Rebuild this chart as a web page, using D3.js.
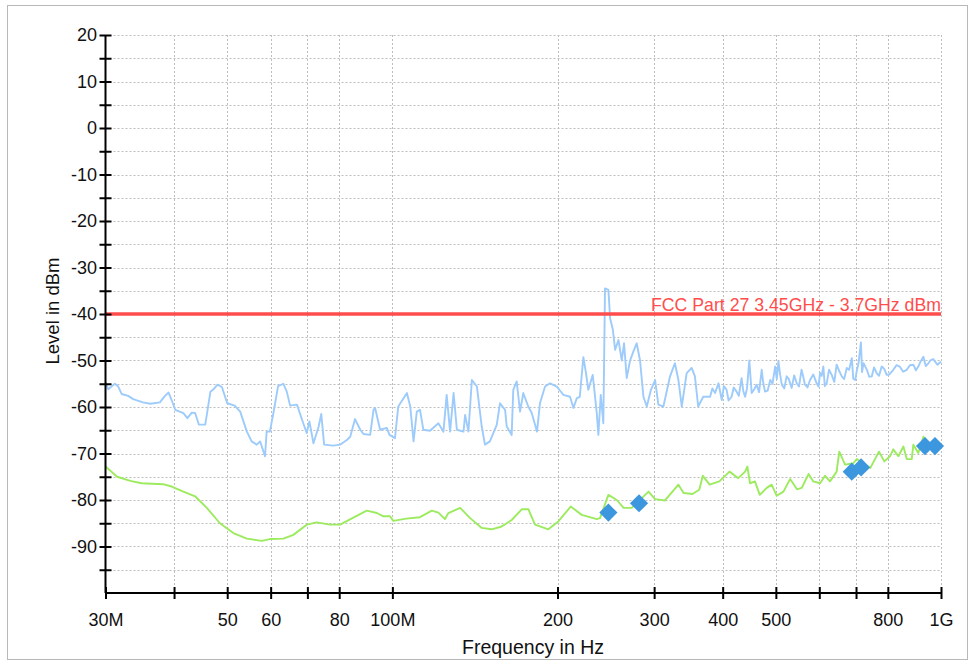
<!DOCTYPE html>
<html>
<head>
<meta charset="utf-8">
<script src="https://cdn.jsdelivr.net/npm/d3@7"></script>
<style>
  html, body { margin: 0; padding: 0; background: #ffffff; }
  svg { display: block; font-family: "Liberation Sans", Arial, Helvetica, sans-serif; }
</style>
</head>
<body>
<svg id="chart" width="968" height="662"></svg>
<script>
// Peak detector sweep: [frequency in MHz, level in dBm]
const peakTrace = [
  [30,-54.7],[30.35,-56.2],[31.2,-55.0],[31.65,-55.6],[32.1,-57.2],[33,-57.6],[33.7,-58.3],
  [35.1,-59.0],[36.2,-59.3],[37.7,-59.0],[38.5,-57.6],[39.1,-56.9],[39.6,-58.5],[40.2,-60.6],
  [41.6,-61.3],[42.3,-62.4],[43.1,-61.2],[43.7,-61.3],[44.4,-63.8],[45.6,-63.8],[46.6,-56.7],
  [47.2,-56.2],[48,-55.2],[48.9,-55.7],[50,-59.2],[51.6,-59.7],[52.8,-61.0],[54.3,-65.3],
  [55.4,-67.4],[56.6,-68.1],[57.4,-67.4],[58.6,-70.6],[59,-65.3],[59.8,-65.3],[60.7,-61.3],
  [61.9,-55.5],[63.3,-55.0],[64.2,-56.7],[65.1,-59.7],[67,-59.5],[68.8,-63.5],[69.8,-65.6],
  [70.6,-63.1],[71.8,-67.8],[73.4,-64.2],[74.2,-61.5],[75.1,-68.1],[78,-68.3],[80.3,-68.1],
  [82.6,-67.1],[83.8,-66.4],[85.5,-62.6],[87.4,-64.9],[88.6,-65.8],[91.1,-66.0],[92.4,-60.6],
  [93,-60.2],[95,-64.9],[97.7,-64.5],[98.8,-66.0],[101.1,-66.7],[102.5,-59.9],[106.3,-57.0],
  [107.8,-59.9],[109.3,-67.4],[110.8,-61.0],[112.3,-60.6],[113.9,-64.9],[117.1,-65.1],
  [121.3,-63.5],[123.9,-65.3],[125.6,-57.4],[127.4,-65.3],[129.3,-57.0],[131.1,-64.9],
  [134.8,-65.3],[135.7,-61.7],[137.6,-65.3],[139.6,-54.2],[142.6,-55.6],[145.5,-64.2],
  [147.5,-68.1],[150.6,-67.4],[155,-63.8],[157.1,-59.2],[160.5,-60.6],[161.6,-64.2],
  [165,-66.0],[166.1,-56.3],[168.5,-54.5],[170.9,-61.0],[173.2,-57.0],[176.9,-59.9],
  [179.5,-61.3],[183.5,-65.3],[185.8,-59.2],[189.8,-55.6],[193.8,-54.9],[199.4,-55.6],
  [202.2,-56.5],[205,-57.4],[210.8,-57.8],[213.8,-60.2],[216.9,-58.1],[219.6,-57.8],
  [222.9,-49.3],[225.4,-52.7],[227.6,-56.3],[231.8,-53.1],[233.1,-55.6],[235.8,-61.3],
  [237.4,-66.0],[239.8,-57.4],[242.4,-63.5],[244.1,-34.5],[247.6,-34.8],[249.4,-40.9],
  [252.3,-43.4],[254.7,-47.7],[258.3,-45.6],[261.9,-50.0],[264.4,-46.3],[267.4,-53.8],
  [271.2,-50.0],[274.9,-48.1],[278.8,-46.3],[282.8,-50.0],[286.8,-57.8],[290.9,-59.9],
  [296,-56.3],[301.2,-54.2],[305.4,-59.5],[311.9,-59.9],[320.7,-53.4],[327.3,-50.6],
  [332.2,-54.2],[336.9,-59.9],[343.9,-52.7],[351.2,-51.6],[356,-53.4],[361,-59.9],
  [368.6,-57.8],[379.4,-57.8],[383,-56.0],[387.5,-57.0],[393,-54.9],[398.5,-58.5],
  [402,-55.5],[406.6,-56.3],[410,-58.6],[415.3,-57.8],[419,-55.8],[424,-56.7],[428,-57.6],
  [433,-53.8],[436,-56.5],[439.5,-57.8],[443,-56.0],[447.3,-50.0],[451.8,-57.0],[456,-56.3],
  [461.3,-55.2],[466,-56.8],[471.2,-52.0],[474,-54.6],[477.7,-56.7],[483,-56.5],[488.4,-54.2],
  [493,-55.0],[498.6,-51.3],[502,-54.0],[505.5,-50.2],[509,-53.0],[512.8,-55.2],[518,-56.0],
  [523.3,-53.4],[528,-54.0],[534.4,-55.9],[540,-53.2],[545.8,-54.9],[551,-55.6],[556.9,-52.0],
  [561,-53.5],[565,-55.2],[571,-55.8],[577.1,-54.2],[585,-53.0],[593.4,-54.9],[598,-55.6],
  [602,-52.7],[606,-53.3],[610.3,-51.3],[614,-55.5],[619,-54.9],[625,-52.0],[632.1,-53.1],
  [639,-54.6],[645.3,-50.9],[652,-52.2],[659.5,-53.4],[666,-54.0],[673.4,-51.6],[680,-52.0],
  [687.8,-49.5],[692,-53.9],[697.8,-54.2],[702,-52.3],[707.4,-50.6],[714.5,-46.1],
  [718,-52.5],[722.3,-50.6],[727,-51.2],[732.6,-52.0],[740,-53.5],[748,-53.4],[755,-51.5],
  [763.5,-52.7],[771,-53.3],[779.7,-51.3],[788,-51.8],[796.3,-53.1],[805,-53.0],[818.5,-52.0],
  [830,-51.0],[841,-51.3],[853,-52.4],[866.2,-52.0],[878,-51.0],[890.4,-50.9],[900,-52.1],
  [909.1,-51.3],[918,-50.2],[928.8,-49.2],[938,-51.2],[948.2,-50.6],[958,-49.9],[968,-49.7],
  [985,-50.9],[1000,-50.2]
];

// Average detector sweep: [frequency in MHz, level in dBm]
const averageTrace = [
  [30,-72.8],[31.5,-75.0],[33.3,-75.9],[34.9,-76.4],[38.2,-76.6],[39.6,-77.1],[41.6,-78.2],
  [43.7,-79.2],[45.9,-81.7],[48.5,-85.0],[51.3,-87.1],[54.3,-88.3],[57.8,-88.8],[59.8,-88.4],
  [63.3,-88.3],[66,-87.5],[69.8,-85.3],[72.8,-84.8],[77,-85.3],[80.3,-85.3],[84.9,-83.8],
  [89.8,-82.3],[93.7,-82.8],[96.3,-83.5],[99,-83.5],[100.4,-84.5],[106,-84.0],[112.3,-83.7],
  [118,-82.3],[121.3,-82.7],[124.7,-84.1],[126.5,-82.8],[132.9,-81.7],[138.6,-83.9],
  [145.5,-86.0],[151.7,-86.3],[158.2,-85.7],[165,-84.3],[172.1,-82.0],[177,-82.0],
  [182,-85.3],[192.4,-86.3],[200.7,-84.6],[211.4,-81.4],[221.4,-83.2],[235.8,-84.1],
  [239,-83.9],[247.6,-78.9],[256.5,-80.0],[263.9,-81.7],[273.1,-81.7],[293,-78.2],
  [301.2,-79.8],[314,-80.1],[332.2,-76.7],[339.5,-78.5],[352.4,-78.7],[362.6,-77.8],
  [368,-74.8],[378.7,-76.7],[394.4,-76.0],[411.7,-73.9],[427,-75.3],[439.5,-73.9],
  [443.6,-72.8],[448.7,-76.4],[458,-76.0],[467.4,-78.9],[481.2,-77.4],[491.3,-76.7],
  [501.8,-79.1],[516.2,-78.2],[530.9,-75.5],[546.4,-77.7],[557.4,-77.4],[573.8,-74.4],
  [585,-76.0],[602,-76.4],[614.7,-74.8],[627.5,-76.0],[645.3,-73.9],[652.5,-69.6],
  [668.6,-72.4],[692.2,-72.1],[702,-71.2],[722.3,-72.1],[743.4,-73.1],[770.8,-69.6],
  [788.3,-71.7],[807.3,-70.6],[818.5,-69.1],[836.2,-70.6],[854,-68.5],[866.2,-71.2],
  [884.5,-71.2],[890.4,-68.1],[909.1,-69.9],[928.8,-66.4],[955,-68.1],[1000,-68.1]
];

// Final measurement points
const markerFreqs  = [247.6, 281.6, 687.6, 715, 935, 975];
const markerLevels = [-82.7, -80.7, -73.9, -73.0, -68.4, -68.4];

// Limit line
const limitLevel = -40;
const limitLabel = "FCC Part 27 3.45GHz - 3.7GHz dBm";

// Axis ticks
const xTickValues = [30, 40, 50, 60, 70, 80, 100, 200, 300, 400, 500, 600, 700, 800, 1000];
const xTickLabels = ["30M", "", "50", "60", "", "80", "100M", "200", "300", "400", "500", "", "", "800", "1G"];
const yMinorTicks = d3.range(-95, 21, 5);
const yMajorTicks = d3.range(-90, 21, 10);

const svg = d3.select("#chart");

// Outer frame
svg.append("rect")
  .attr("x", 7.5).attr("y", 5.5).attr("width", 960).attr("height", 654)
  .attr("fill", "#ffffff").attr("stroke", "#b8b8b8").attr("stroke-width", 1);

const plotLeft = 105.5, plotRight = 941, plotTop = 35, plotBottom = 593;

const x = d3.scaleLog().domain([30, 1000]).range([plotLeft, plotRight]);
const y = d3.scaleLinear().domain([-100, 20]).range([plotBottom, plotTop]);

// Grid
const grid = svg.append("g").attr("stroke", "#bdbdbd").attr("stroke-width", 1)
  .attr("stroke-dasharray", "2,2");
grid.selectAll("line.h").data(yMinorTicks).join("line")
  .attr("x1", plotLeft).attr("x2", plotRight)
  .attr("y1", d => Math.round(y(d)) + 0.5).attr("y2", d => Math.round(y(d)) + 0.5);
grid.selectAll("line.v").data(xTickValues.slice(1)).join("line")
  .attr("x1", d => Math.round(x(d)) + 0.5).attr("x2", d => Math.round(x(d)) + 0.5)
  .attr("y1", plotTop).attr("y2", plotBottom);

// Traces
svg.append("clipPath").attr("id", "plot-clip")
  .append("rect").attr("x", plotLeft).attr("y", plotTop - 2)
  .attr("width", plotRight - plotLeft + 1).attr("height", plotBottom - plotTop + 2);

const line = d3.line().x(d => x(d[0])).y(d => y(d[1]));
const traces = svg.append("g").attr("clip-path", "url(#plot-clip)");

traces.append("path").datum(peakTrace)
  .attr("fill", "none").attr("stroke", "#9dcbfb").attr("stroke-width", 1.9)
  .attr("stroke-linejoin", "round").attr("d", line);

traces.append("path").datum(averageTrace)
  .attr("fill", "none").attr("stroke", "#9ceb5f").attr("stroke-width", 1.9)
  .attr("stroke-linejoin", "round").attr("d", line);

// Limit line
svg.append("line")
  .attr("x1", plotLeft).attr("x2", plotRight)
  .attr("y1", y(limitLevel)).attr("y2", y(limitLevel))
  .attr("stroke", "#ff4d4d").attr("stroke-width", 3.5);
svg.append("text")
  .attr("x", plotRight).attr("y", y(limitLevel) - 3)
  .attr("text-anchor", "end").attr("fill", "#ff4d4d")
  .attr("font-size", 17.7).text(limitLabel);

// Markers
const diamond = d3.symbol().type(d3.symbolSquare).size(165);
svg.append("g").selectAll("path")
  .data(markerFreqs.map((f, i) => [f, markerLevels[i]]))
  .join("path")
  .attr("d", diamond)
  .attr("transform", d => `translate(${x(d[0])},${y(d[1])}) rotate(45)`)
  .attr("fill", "#3d97de");

// Axes
const xAxis = d3.axisBottom(x)
  .tickValues(xTickValues)
  .tickFormat((d, i) => xTickLabels[i])
  .tickSizeInner(6).tickSizeOuter(0).tickPadding(14);
const gx = svg.append("g").attr("transform", `translate(0,${plotBottom})`).call(xAxis);

const yAxis = d3.axisLeft(y)
  .tickValues(yMinorTicks)
  .tickFormat(d => (yMajorTicks.includes(d) ? d : ""))
  .tickSizeInner(6).tickSizeOuter(0).tickPadding(2.5);
const gy = svg.append("g").attr("transform", `translate(${plotLeft},0)`).call(yAxis);

[gx, gy].forEach(g => {
  g.select(".domain").attr("stroke", "#000").attr("stroke-width", 2);
  g.selectAll(".tick line").attr("stroke", "#000").attr("stroke-width", 2);
  g.selectAll(".tick text").attr("fill", "#111").attr("font-size", 18)
    .attr("font-family", "'Liberation Sans', Arial, sans-serif");
});
gx.selectAll(".tick line").attr("y1", -6).attr("y2", 6);
gy.selectAll(".tick line").attr("x1", 6).attr("x2", -6);
gy.select(".domain").attr("d", `M0,${plotBottom}V${plotTop}`);
gx.select(".domain").attr("d", `M${plotLeft},0H${plotRight}`);

// Axis titles
svg.append("text")
  .attr("x", 533).attr("y", 654)
  .attr("text-anchor", "middle").attr("font-size", 19.5).attr("fill", "#111")
  .text("Frequency in Hz");
svg.append("text")
  .attr("transform", "translate(59,311) rotate(-90)")
  .attr("text-anchor", "middle").attr("font-size", 18.5).attr("fill", "#111")
  .text("Level in dBm");
</script>
</body>
</html>
